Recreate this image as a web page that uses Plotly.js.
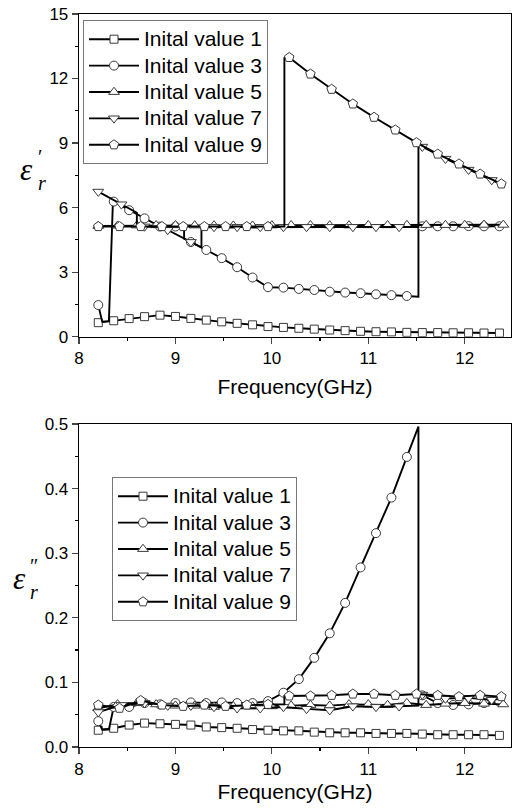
<!DOCTYPE html>
<html>
<head>
<meta charset="utf-8">
<script src="https://cdn.plot.ly/plotly-3.0.1.min.js"></script>
<style>html,body{margin:0;padding:0;background:#fff;}#chart{width:512px;height:809px;}</style>
</head>
<body>
<div id="chart"></div>
<script>
// ---------- data ----------
const seriesNames = ["Inital value 1", "Inital value 3", "Inital value 5", "Inital value 7", "Inital value 9"];
const xTickVals = [8, 9, 10, 11, 12];

// marker positions (GHz)
const xSquare   = [8.20,8.36,8.52,8.68,8.84,9.00,9.16,9.32,9.48,9.64,9.80,9.96,10.12,10.28,10.44,10.60,10.76,10.92,11.08,11.24,11.40,11.56,11.72,11.88,12.04,12.20,12.36];
const xCircle   = [8.20,8.36,8.52,8.68,8.84,9.00,9.16,9.32,9.48,9.64,9.80,9.96,10.12,10.28,10.44,10.60,10.76,10.92,11.08,11.24,11.40,11.56,11.72,11.88,12.04,12.20,12.36];
const xTriUp    = [8.2,8.4,8.6,8.8,9.0,9.2,9.4,9.6,9.8,10.0,10.2,10.4,10.6,10.8,11.0,11.2,11.4,11.6,11.8,12.0,12.2,12.4];
const xTriDown  = [8.20,8.44,8.68,8.92,9.16,9.40,9.64,9.88,10.12,10.36,10.60,10.84,11.08,11.32,11.56,11.80,12.04,12.28];
const xPentagon = [8.20,8.42,8.64,8.86,9.08,9.30,9.52,9.74,9.96,10.18,10.40,10.62,10.84,11.06,11.28,11.50,11.72,11.94,12.16,12.38];

// real part  (epsilon')
const re1 = [0.65,0.74,0.84,0.93,1.00,0.94,0.85,0.77,0.69,0.62,0.55,0.47,0.43,0.39,0.35,0.31,0.28,0.25,0.23,0.22,0.20,0.19,0.19,0.18,0.18,0.17,0.17];
const re3 = [1.47,6.28,5.88,5.50,5.12,5.12,4.40,4.03,3.65,3.23,2.75,2.30,2.28,2.22,2.17,2.09,2.05,2.02,1.97,1.93,1.89,5.13,5.13,5.13,5.14,5.13,5.13];
const re5 = [5.15,5.16,5.17,5.18,5.18,5.17,5.17,5.16,5.16,5.17,5.18,5.18,5.17,5.17,5.18,5.18,5.19,5.19,5.19,5.19,5.20,5.20];
const re7 = [6.74,6.15,5.12,4.96,4.40,5.10,5.10,5.10,5.10,5.10,5.10,5.10,5.10,5.10,8.83,8.27,7.76,7.28];
const re9 = [5.12,5.12,5.12,5.12,5.12,5.12,5.12,5.12,5.12,12.98,12.21,11.50,10.82,10.20,9.61,9.02,8.49,8.03,7.56,7.10];

// imaginary part (epsilon'')
const im1 = [0.026,0.029,0.034,0.037,0.036,0.035,0.034,0.031,0.030,0.029,0.027,0.026,0.025,0.025,0.023,0.022,0.022,0.022,0.021,0.021,0.021,0.020,0.019,0.019,0.019,0.019,0.018];
const im3 = [0.040,0.062,0.062,0.068,0.066,0.068,0.069,0.068,0.069,0.068,0.068,0.071,0.084,0.105,0.138,0.176,0.223,0.278,0.331,0.386,0.449,0.080,0.068,0.065,0.066,0.068,0.070];
const im5 = [0.060,0.066,0.068,0.066,0.064,0.064,0.062,0.063,0.063,0.063,0.064,0.065,0.064,0.066,0.066,0.065,0.068,0.065,0.067,0.068,0.067,0.066];
const im7 = [0.054,0.065,0.068,0.064,0.064,0.062,0.060,0.060,0.062,0.059,0.057,0.063,0.062,0.063,0.081,0.075,0.076,0.073];
const im9 = [0.065,0.060,0.072,0.065,0.063,0.065,0.063,0.065,0.066,0.079,0.079,0.080,0.082,0.082,0.080,0.082,0.080,0.078,0.080,0.078];

// extra line vertices without symbols (jumps between solutions)
const jx1 = [];             const jre1 = [];            const jim1 = [];
const jx3 = [8.24,8.31,8.35,9.09,9.09,11.52,11.52];
const jre3 = [0.70,0.72,6.05,5.12,4.55,1.86,5.13];
const jim3 = [0.027,0.027,0.060,0.068,0.068,0.496,0.085];
const jx5 = [];             const jre5 = [];            const jim5 = [];
const jx7 = [8.60,8.60,8.86,9.27,9.27,11.52,11.52,12.40];
const jre7 = [5.76,5.12,5.12,4.15,5.10,5.10,8.88,7.05];
const jim7 = [0.067,0.067,0.066,0.064,0.063,0.064,0.082,0.075];
const jx9 = [10.13,10.13];
const jre9 = [5.12,12.95];
const jim9 = [0.066,0.079];

// ---------- build ----------
const symbols = ["square", "circle", "triangle-up", "triangle-down", "pentagon"];
const symSize = {"square": 8, "circle": 9, "triangle-up": 9.5, "triangle-down": 9.5, "pentagon": 10};
const markX = [xSquare, xCircle, xTriUp, xTriDown, xPentagon];
const reVals = [re1, re3, re5, re7, re9];
const imVals = [im1, im3, im5, im7, im9];
const jumpX = [jx1, jx3, jx5, jx7, jx9];
const jumpRe = [jre1, jre3, jre5, jre7, jre9];
const jumpIm = [jim1, jim3, jim5, jim7, jim9];

function merge(mx, my, jx, jy) {
  const pts = mx.map((x, i) => [x, my[i]]).concat(jx.map((x, i) => [x, jy[i]]));
  pts.sort((a, b) => a[0] - b[0]);
  return {x: pts.map(p => p[0]), y: pts.map(p => p[1])};
}

const lineStyle = {color: "#000", width: 1.9};
const markerStyle = (s) => ({symbol: s, size: symSize[s], color: "#fff", line: {color: "#3a3a3a", width: 1}});

const traces = [];
const panels = [
  {xa: "x", ya: "y", vals: reVals, jv: jumpRe, legend: "legend"},
  {xa: "x2", ya: "y2", vals: imVals, jv: jumpIm, legend: "legend2"}
];
panels.forEach(p => {
  for (let k = 0; k < 5; k++) {
    const m = merge(markX[k], p.vals[k], jumpX[k], p.jv[k]);
    traces.push({x: m.x, y: m.y, xaxis: p.xa, yaxis: p.ya, mode: "lines", line: lineStyle,
                 showlegend: false, hoverinfo: "skip"});
    traces.push({x: markX[k], y: p.vals[k], xaxis: p.xa, yaxis: p.ya, mode: "markers",
                 marker: markerStyle(symbols[k]), showlegend: false});
  }
  for (let k = 0; k < 5; k++) {
    traces.push({x: [null], y: [null], xaxis: p.xa, yaxis: p.ya, mode: "lines+markers",
                 name: '<span style="font-size:21px">' + seriesNames[k] + '</span>',
                 line: lineStyle, marker: markerStyle(symbols[k]),
                 showlegend: true, legend: p.legend});
  }
});

const font = "Liberation Sans, Arial, sans-serif";
const xr = [8, 12.48];
const baseX = {range: xr, tickvals: xTickVals, ticks: "outside", ticklen: 6, tickwidth: 1.2,
  showline: true, linecolor: "#000", linewidth: 1.3, mirror: true, showgrid: false, zeroline: false,
  tickfont: {family: font, size: 17, color: "#000"},
  minor: {dtick: 0.5, tick0: 8, ticks: "outside", ticklen: 3, tickwidth: 1.2, tickcolor: "#000", showgrid: false}};
const xTitle = (so) => ({text: "Frequency(GHz)", font: {family: font, size: 21, color: "#000"}, standoff: so});
const mirrorX = (ov, an) => ({overlaying: ov, anchor: an, side: "top", range: xr, dtick: 1, tick0: 8,
  ticks: "inside", ticklen: 5, tickwidth: 1.2, showticklabels: false, showline: false, showgrid: false, zeroline: false,
  minor: {dtick: 0.5, tick0: 8, ticks: "inside", ticklen: 3, tickwidth: 1.2, tickcolor: "#000", showgrid: false}});
const baseY = {ticks: "outside", ticklen: 6, tickwidth: 1.2, showline: true, linecolor: "#000", linewidth: 1.3,
  mirror: true, showgrid: false, zeroline: false, tickfont: {family: font, size: 17, color: "#000"}};
const mirrorY = (ov, an, range, dt) => ({overlaying: ov, anchor: an, side: "right", range: range, dtick: dt, tick0: 0,
  ticks: "inside", ticklen: 5, tickwidth: 1.2, showticklabels: false, showline: false, showgrid: false, zeroline: false,
  minor: {dtick: dt / 2, tick0: 0, ticks: "inside", ticklen: 4, tickwidth: 1.2, tickcolor: "#000", showgrid: false}});

const legendBase = {bgcolor: "#fff", bordercolor: "#777", borderwidth: 1, xanchor: "left", yanchor: "top",
  font: {family: font, size: 18, color: "#000"}, itemwidth: 50, tracegroupgap: 0};

// pixel -> paper helpers for the y-axis symbols
const px2x = px => (px - 79) / 432;
const py2y = py => (747 - py) / 733;
const serif = "Liberation Serif, Times New Roman, serif";
const ann = (t, px, py, size, xa) => ({text: t, x: px2x(px), y: py2y(py), xref: "paper", yref: "paper",
  showarrow: false, xanchor: xa || "center", yanchor: "middle", align: "left",
  font: {family: serif, size: size, color: "#000"}});

const layout = {
  width: 512, height: 809,
  margin: {l: 79, r: 1, t: 14, b: 62},
  paper_bgcolor: "#fff", plot_bgcolor: "rgba(0,0,0,0)",
  xaxis: Object.assign({}, baseX, {anchor: "y", domain: [0, 1], title: xTitle(12)}),
  yaxis: Object.assign({}, baseY, {anchor: "x", domain: [0.5598, 1], range: [0, 15], dtick: 3, tick0: 0,
    minor: {dtick: 1.5, tick0: 0, ticks: "outside", ticklen: 3, tickwidth: 1.2, tickcolor: "#000", showgrid: false}}),
  xaxis2: Object.assign({}, baseX, {anchor: "y2", domain: [0, 1], title: xTitle(6)}),
  yaxis2: Object.assign({}, baseY, {anchor: "x2", domain: [0, 0.4407], range: [0, 0.5], dtick: 0.1, tick0: 0, tickformat: ".1f",
    minor: {dtick: 0.05, tick0: 0, ticks: "outside", ticklen: 3, tickwidth: 1.2, tickcolor: "#000", showgrid: false}}),
  xaxis3: mirrorX("x", "y"),
  yaxis3: mirrorY("y", "x", [0, 15], 3),
  xaxis4: mirrorX("x2", "y2"),
  yaxis4: mirrorY("y2", "x2", [0, 0.5], 0.1),
  legend: Object.assign({}, legendBase, {x: px2x(83), y: py2y(20)}),
  legend2: Object.assign({}, legendBase, {x: px2x(112), y: py2y(477)}),
  annotations: [
    ann("<i>ε</i>", 26, 169, 31),
    ann("′<br><i>r</i>", 36, 170, 20, "left"),
    ann("<i>ε</i>", 19, 578, 31),
    ann("″<br><i>r</i>", 28, 579, 20, "left")
  ],
  showlegend: true
};

Plotly.newPlot("chart", traces, layout, {displayModeBar: false, staticPlot: true});
</script>
</body>
</html>
